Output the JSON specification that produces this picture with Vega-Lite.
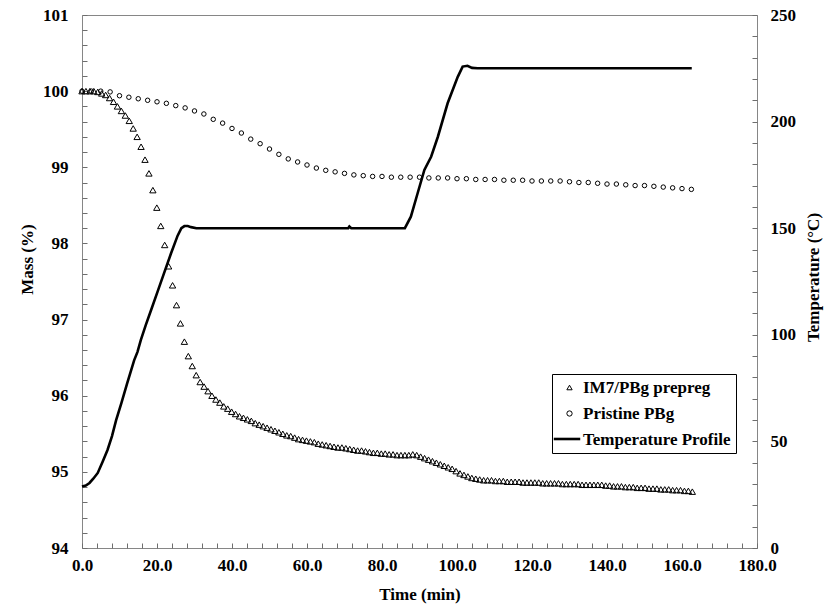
{
  "$schema": "https://vega.github.io/schema/vega-lite/v6.json",
  "width": 675,
  "height": 533,
  "padding": {"left": 18, "top": 6, "right": 5, "bottom": 5},
  "background": "white",
  "config": {
    "font": "Liberation Serif",
    "view": {"stroke": "#868686", "strokeWidth": 1},
    "axis": {
      "grid": false,
      "domain": false,
      "ticks": true,
      "tickSize": 5,
      "tickWidth": 1,
      "offset": -5,
      "tickColor": "#6e6e6e",
      "labelColor": "black",
      "titleColor": "black",
      "labelFont": "Liberation Serif",
      "titleFont": "Liberation Serif",
      "labelFontWeight": "bold",
      "titleFontWeight": "bold",
      "labelFontSize": 17,
      "titleFontSize": 17,
      "labelOverlap": false,
      "labelFlush": false,
      "labelBound": false
    }
  },
  "datasets": {
    "mass": [
      {"s": "Pristine PBg", "t": 0, "m": 100.00},
      {"s": "Pristine PBg", "t": 2.5, "m": 100.00},
      {"s": "Pristine PBg", "t": 5, "m": 100.00},
      {"s": "Pristine PBg", "t": 7.5, "m": 99.99},
      {"s": "Pristine PBg", "t": 10, "m": 99.94},
      {"s": "Pristine PBg", "t": 12.5, "m": 99.92},
      {"s": "Pristine PBg", "t": 15, "m": 99.90},
      {"s": "Pristine PBg", "t": 17.5, "m": 99.88},
      {"s": "Pristine PBg", "t": 20, "m": 99.86},
      {"s": "Pristine PBg", "t": 22.5, "m": 99.84},
      {"s": "Pristine PBg", "t": 25, "m": 99.81},
      {"s": "Pristine PBg", "t": 27.5, "m": 99.78},
      {"s": "Pristine PBg", "t": 30, "m": 99.74},
      {"s": "Pristine PBg", "t": 32.5, "m": 99.70},
      {"s": "Pristine PBg", "t": 35, "m": 99.63},
      {"s": "Pristine PBg", "t": 37.5, "m": 99.58},
      {"s": "Pristine PBg", "t": 40, "m": 99.51},
      {"s": "Pristine PBg", "t": 42.5, "m": 99.45},
      {"s": "Pristine PBg", "t": 45, "m": 99.37},
      {"s": "Pristine PBg", "t": 47.5, "m": 99.31},
      {"s": "Pristine PBg", "t": 50, "m": 99.24},
      {"s": "Pristine PBg", "t": 52.5, "m": 99.17},
      {"s": "Pristine PBg", "t": 55, "m": 99.11},
      {"s": "Pristine PBg", "t": 57.5, "m": 99.07},
      {"s": "Pristine PBg", "t": 60, "m": 99.03},
      {"s": "Pristine PBg", "t": 62.5, "m": 98.99},
      {"s": "Pristine PBg", "t": 65, "m": 98.96},
      {"s": "Pristine PBg", "t": 67.5, "m": 98.94},
      {"s": "Pristine PBg", "t": 70, "m": 98.92},
      {"s": "Pristine PBg", "t": 72.5, "m": 98.90},
      {"s": "Pristine PBg", "t": 75, "m": 98.89},
      {"s": "Pristine PBg", "t": 77.5, "m": 98.88},
      {"s": "Pristine PBg", "t": 80, "m": 98.88},
      {"s": "Pristine PBg", "t": 82.5, "m": 98.87},
      {"s": "Pristine PBg", "t": 85, "m": 98.87},
      {"s": "Pristine PBg", "t": 87.5, "m": 98.87},
      {"s": "Pristine PBg", "t": 90, "m": 98.87},
      {"s": "Pristine PBg", "t": 92.5, "m": 98.86},
      {"s": "Pristine PBg", "t": 95, "m": 98.86},
      {"s": "Pristine PBg", "t": 97.5, "m": 98.86},
      {"s": "Pristine PBg", "t": 100, "m": 98.85},
      {"s": "Pristine PBg", "t": 102.5, "m": 98.85},
      {"s": "Pristine PBg", "t": 105, "m": 98.84},
      {"s": "Pristine PBg", "t": 107.5, "m": 98.84},
      {"s": "Pristine PBg", "t": 110, "m": 98.84},
      {"s": "Pristine PBg", "t": 112.5, "m": 98.83},
      {"s": "Pristine PBg", "t": 115, "m": 98.83},
      {"s": "Pristine PBg", "t": 117.5, "m": 98.83},
      {"s": "Pristine PBg", "t": 120, "m": 98.82},
      {"s": "Pristine PBg", "t": 122.5, "m": 98.82},
      {"s": "Pristine PBg", "t": 125, "m": 98.82},
      {"s": "Pristine PBg", "t": 127.5, "m": 98.82},
      {"s": "Pristine PBg", "t": 130, "m": 98.81},
      {"s": "Pristine PBg", "t": 132.5, "m": 98.80},
      {"s": "Pristine PBg", "t": 135, "m": 98.80},
      {"s": "Pristine PBg", "t": 137.5, "m": 98.79},
      {"s": "Pristine PBg", "t": 140, "m": 98.78},
      {"s": "Pristine PBg", "t": 142.5, "m": 98.78},
      {"s": "Pristine PBg", "t": 145, "m": 98.77},
      {"s": "Pristine PBg", "t": 147.5, "m": 98.76},
      {"s": "Pristine PBg", "t": 150, "m": 98.76},
      {"s": "Pristine PBg", "t": 152.5, "m": 98.75},
      {"s": "Pristine PBg", "t": 155, "m": 98.74},
      {"s": "Pristine PBg", "t": 157.5, "m": 98.73},
      {"s": "Pristine PBg", "t": 160, "m": 98.72},
      {"s": "Pristine PBg", "t": 162.5, "m": 98.71},
      {"s": "IM7/PBg prepreg", "t": 0, "m": 100.00},
      {"s": "IM7/PBg prepreg", "t": 1.05, "m": 100.00},
      {"s": "IM7/PBg prepreg", "t": 2.1, "m": 100.00},
      {"s": "IM7/PBg prepreg", "t": 3.15, "m": 100.00},
      {"s": "IM7/PBg prepreg", "t": 4.2, "m": 99.99},
      {"s": "IM7/PBg prepreg", "t": 5.25, "m": 99.97},
      {"s": "IM7/PBg prepreg", "t": 6.3, "m": 99.95},
      {"s": "IM7/PBg prepreg", "t": 7.35, "m": 99.91},
      {"s": "IM7/PBg prepreg", "t": 8.4, "m": 99.86},
      {"s": "IM7/PBg prepreg", "t": 9.45, "m": 99.80},
      {"s": "IM7/PBg prepreg", "t": 10.5, "m": 99.74},
      {"s": "IM7/PBg prepreg", "t": 11.55, "m": 99.68},
      {"s": "IM7/PBg prepreg", "t": 12.6, "m": 99.61},
      {"s": "IM7/PBg prepreg", "t": 13.65, "m": 99.51},
      {"s": "IM7/PBg prepreg", "t": 14.7, "m": 99.40},
      {"s": "IM7/PBg prepreg", "t": 15.75, "m": 99.27},
      {"s": "IM7/PBg prepreg", "t": 16.8, "m": 99.10},
      {"s": "IM7/PBg prepreg", "t": 17.85, "m": 98.92},
      {"s": "IM7/PBg prepreg", "t": 18.9, "m": 98.70},
      {"s": "IM7/PBg prepreg", "t": 19.95, "m": 98.47},
      {"s": "IM7/PBg prepreg", "t": 21, "m": 98.23},
      {"s": "IM7/PBg prepreg", "t": 22.05, "m": 97.98},
      {"s": "IM7/PBg prepreg", "t": 23.1, "m": 97.70},
      {"s": "IM7/PBg prepreg", "t": 24.15, "m": 97.45},
      {"s": "IM7/PBg prepreg", "t": 25.2, "m": 97.19},
      {"s": "IM7/PBg prepreg", "t": 26.25, "m": 96.95},
      {"s": "IM7/PBg prepreg", "t": 27.3, "m": 96.71},
      {"s": "IM7/PBg prepreg", "t": 28.35, "m": 96.52},
      {"s": "IM7/PBg prepreg", "t": 29.4, "m": 96.39},
      {"s": "IM7/PBg prepreg", "t": 30.45, "m": 96.27},
      {"s": "IM7/PBg prepreg", "t": 31.5, "m": 96.18},
      {"s": "IM7/PBg prepreg", "t": 32.55, "m": 96.12},
      {"s": "IM7/PBg prepreg", "t": 33.6, "m": 96.06},
      {"s": "IM7/PBg prepreg", "t": 34.65, "m": 96.00},
      {"s": "IM7/PBg prepreg", "t": 35.7, "m": 95.95},
      {"s": "IM7/PBg prepreg", "t": 36.75, "m": 95.91},
      {"s": "IM7/PBg prepreg", "t": 37.8, "m": 95.86},
      {"s": "IM7/PBg prepreg", "t": 38.85, "m": 95.83},
      {"s": "IM7/PBg prepreg", "t": 39.9, "m": 95.79},
      {"s": "IM7/PBg prepreg", "t": 40.95, "m": 95.76},
      {"s": "IM7/PBg prepreg", "t": 42, "m": 95.73},
      {"s": "IM7/PBg prepreg", "t": 43.05, "m": 95.71},
      {"s": "IM7/PBg prepreg", "t": 44.1, "m": 95.69},
      {"s": "IM7/PBg prepreg", "t": 45.15, "m": 95.67},
      {"s": "IM7/PBg prepreg", "t": 46.2, "m": 95.64},
      {"s": "IM7/PBg prepreg", "t": 47.25, "m": 95.62},
      {"s": "IM7/PBg prepreg", "t": 48.3, "m": 95.60},
      {"s": "IM7/PBg prepreg", "t": 49.35, "m": 95.58},
      {"s": "IM7/PBg prepreg", "t": 50.4, "m": 95.56},
      {"s": "IM7/PBg prepreg", "t": 51.45, "m": 95.54},
      {"s": "IM7/PBg prepreg", "t": 52.5, "m": 95.52},
      {"s": "IM7/PBg prepreg", "t": 53.55, "m": 95.50},
      {"s": "IM7/PBg prepreg", "t": 54.6, "m": 95.48},
      {"s": "IM7/PBg prepreg", "t": 55.65, "m": 95.47},
      {"s": "IM7/PBg prepreg", "t": 56.7, "m": 95.45},
      {"s": "IM7/PBg prepreg", "t": 57.75, "m": 95.43},
      {"s": "IM7/PBg prepreg", "t": 58.8, "m": 95.42},
      {"s": "IM7/PBg prepreg", "t": 59.85, "m": 95.41},
      {"s": "IM7/PBg prepreg", "t": 60.9, "m": 95.40},
      {"s": "IM7/PBg prepreg", "t": 61.95, "m": 95.39},
      {"s": "IM7/PBg prepreg", "t": 63, "m": 95.37},
      {"s": "IM7/PBg prepreg", "t": 64.05, "m": 95.36},
      {"s": "IM7/PBg prepreg", "t": 65.1, "m": 95.35},
      {"s": "IM7/PBg prepreg", "t": 66.15, "m": 95.34},
      {"s": "IM7/PBg prepreg", "t": 67.2, "m": 95.33},
      {"s": "IM7/PBg prepreg", "t": 68.25, "m": 95.32},
      {"s": "IM7/PBg prepreg", "t": 69.3, "m": 95.32},
      {"s": "IM7/PBg prepreg", "t": 70.35, "m": 95.31},
      {"s": "IM7/PBg prepreg", "t": 71.4, "m": 95.30},
      {"s": "IM7/PBg prepreg", "t": 72.45, "m": 95.29},
      {"s": "IM7/PBg prepreg", "t": 73.5, "m": 95.28},
      {"s": "IM7/PBg prepreg", "t": 74.55, "m": 95.28},
      {"s": "IM7/PBg prepreg", "t": 75.6, "m": 95.27},
      {"s": "IM7/PBg prepreg", "t": 76.65, "m": 95.26},
      {"s": "IM7/PBg prepreg", "t": 77.7, "m": 95.25},
      {"s": "IM7/PBg prepreg", "t": 78.75, "m": 95.25},
      {"s": "IM7/PBg prepreg", "t": 79.8, "m": 95.24},
      {"s": "IM7/PBg prepreg", "t": 80.85, "m": 95.24},
      {"s": "IM7/PBg prepreg", "t": 81.9, "m": 95.23},
      {"s": "IM7/PBg prepreg", "t": 82.95, "m": 95.23},
      {"s": "IM7/PBg prepreg", "t": 84, "m": 95.22},
      {"s": "IM7/PBg prepreg", "t": 85.05, "m": 95.22},
      {"s": "IM7/PBg prepreg", "t": 86.1, "m": 95.22},
      {"s": "IM7/PBg prepreg", "t": 87.15, "m": 95.22},
      {"s": "IM7/PBg prepreg", "t": 88.2, "m": 95.23},
      {"s": "IM7/PBg prepreg", "t": 89.25, "m": 95.22},
      {"s": "IM7/PBg prepreg", "t": 90.3, "m": 95.20},
      {"s": "IM7/PBg prepreg", "t": 91.35, "m": 95.18},
      {"s": "IM7/PBg prepreg", "t": 92.4, "m": 95.16},
      {"s": "IM7/PBg prepreg", "t": 93.45, "m": 95.14},
      {"s": "IM7/PBg prepreg", "t": 94.5, "m": 95.12},
      {"s": "IM7/PBg prepreg", "t": 95.55, "m": 95.10},
      {"s": "IM7/PBg prepreg", "t": 96.6, "m": 95.08},
      {"s": "IM7/PBg prepreg", "t": 97.65, "m": 95.06},
      {"s": "IM7/PBg prepreg", "t": 98.7, "m": 95.04},
      {"s": "IM7/PBg prepreg", "t": 99.75, "m": 95.01},
      {"s": "IM7/PBg prepreg", "t": 100.8, "m": 94.98},
      {"s": "IM7/PBg prepreg", "t": 101.85, "m": 94.96},
      {"s": "IM7/PBg prepreg", "t": 102.9, "m": 94.94},
      {"s": "IM7/PBg prepreg", "t": 103.95, "m": 94.92},
      {"s": "IM7/PBg prepreg", "t": 105, "m": 94.91},
      {"s": "IM7/PBg prepreg", "t": 106.05, "m": 94.90},
      {"s": "IM7/PBg prepreg", "t": 107.1, "m": 94.89},
      {"s": "IM7/PBg prepreg", "t": 108.15, "m": 94.89},
      {"s": "IM7/PBg prepreg", "t": 109.2, "m": 94.89},
      {"s": "IM7/PBg prepreg", "t": 110.25, "m": 94.88},
      {"s": "IM7/PBg prepreg", "t": 111.3, "m": 94.88},
      {"s": "IM7/PBg prepreg", "t": 112.35, "m": 94.88},
      {"s": "IM7/PBg prepreg", "t": 113.4, "m": 94.87},
      {"s": "IM7/PBg prepreg", "t": 114.45, "m": 94.87},
      {"s": "IM7/PBg prepreg", "t": 115.5, "m": 94.87},
      {"s": "IM7/PBg prepreg", "t": 116.55, "m": 94.87},
      {"s": "IM7/PBg prepreg", "t": 117.6, "m": 94.86},
      {"s": "IM7/PBg prepreg", "t": 118.65, "m": 94.86},
      {"s": "IM7/PBg prepreg", "t": 119.7, "m": 94.86},
      {"s": "IM7/PBg prepreg", "t": 120.75, "m": 94.86},
      {"s": "IM7/PBg prepreg", "t": 121.8, "m": 94.86},
      {"s": "IM7/PBg prepreg", "t": 122.85, "m": 94.85},
      {"s": "IM7/PBg prepreg", "t": 123.9, "m": 94.85},
      {"s": "IM7/PBg prepreg", "t": 124.95, "m": 94.85},
      {"s": "IM7/PBg prepreg", "t": 126, "m": 94.85},
      {"s": "IM7/PBg prepreg", "t": 127.05, "m": 94.85},
      {"s": "IM7/PBg prepreg", "t": 128.1, "m": 94.84},
      {"s": "IM7/PBg prepreg", "t": 129.15, "m": 94.84},
      {"s": "IM7/PBg prepreg", "t": 130.2, "m": 94.84},
      {"s": "IM7/PBg prepreg", "t": 131.25, "m": 94.84},
      {"s": "IM7/PBg prepreg", "t": 132.3, "m": 94.84},
      {"s": "IM7/PBg prepreg", "t": 133.35, "m": 94.83},
      {"s": "IM7/PBg prepreg", "t": 134.4, "m": 94.83},
      {"s": "IM7/PBg prepreg", "t": 135.45, "m": 94.83},
      {"s": "IM7/PBg prepreg", "t": 136.5, "m": 94.83},
      {"s": "IM7/PBg prepreg", "t": 137.55, "m": 94.83},
      {"s": "IM7/PBg prepreg", "t": 138.6, "m": 94.83},
      {"s": "IM7/PBg prepreg", "t": 139.65, "m": 94.82},
      {"s": "IM7/PBg prepreg", "t": 140.7, "m": 94.82},
      {"s": "IM7/PBg prepreg", "t": 141.75, "m": 94.81},
      {"s": "IM7/PBg prepreg", "t": 142.8, "m": 94.81},
      {"s": "IM7/PBg prepreg", "t": 143.85, "m": 94.81},
      {"s": "IM7/PBg prepreg", "t": 144.9, "m": 94.80},
      {"s": "IM7/PBg prepreg", "t": 145.95, "m": 94.80},
      {"s": "IM7/PBg prepreg", "t": 147, "m": 94.80},
      {"s": "IM7/PBg prepreg", "t": 148.05, "m": 94.79},
      {"s": "IM7/PBg prepreg", "t": 149.1, "m": 94.79},
      {"s": "IM7/PBg prepreg", "t": 150.15, "m": 94.79},
      {"s": "IM7/PBg prepreg", "t": 151.2, "m": 94.78},
      {"s": "IM7/PBg prepreg", "t": 152.25, "m": 94.78},
      {"s": "IM7/PBg prepreg", "t": 153.3, "m": 94.78},
      {"s": "IM7/PBg prepreg", "t": 154.35, "m": 94.77},
      {"s": "IM7/PBg prepreg", "t": 155.4, "m": 94.77},
      {"s": "IM7/PBg prepreg", "t": 156.45, "m": 94.77},
      {"s": "IM7/PBg prepreg", "t": 157.5, "m": 94.76},
      {"s": "IM7/PBg prepreg", "t": 158.55, "m": 94.76},
      {"s": "IM7/PBg prepreg", "t": 159.6, "m": 94.76},
      {"s": "IM7/PBg prepreg", "t": 160.65, "m": 94.75},
      {"s": "IM7/PBg prepreg", "t": 161.7, "m": 94.75},
      {"s": "IM7/PBg prepreg", "t": 162.75, "m": 94.74}
    ],
    "temp": [
      {"t": 0, "T": 28.8},
      {"t": 1, "T": 29.3},
      {"t": 2, "T": 30.5},
      {"t": 3, "T": 32.5},
      {"t": 4.2, "T": 35.2},
      {"t": 5.5, "T": 40.5},
      {"t": 6.8, "T": 46},
      {"t": 8, "T": 52.5},
      {"t": 9.1, "T": 60},
      {"t": 10.5, "T": 68},
      {"t": 12, "T": 77},
      {"t": 13.9, "T": 88},
      {"t": 14.8, "T": 92},
      {"t": 15.7, "T": 97.6},
      {"t": 17, "T": 104.5},
      {"t": 18.5, "T": 112},
      {"t": 20.2, "T": 120.5},
      {"t": 22, "T": 129.5},
      {"t": 23.7, "T": 138},
      {"t": 25.5, "T": 146.5},
      {"t": 26.5, "T": 150},
      {"t": 27.3, "T": 151},
      {"t": 28.2, "T": 151},
      {"t": 29.1, "T": 150.5},
      {"t": 30.5, "T": 150},
      {"t": 71, "T": 150},
      {"t": 71.3, "T": 150.8},
      {"t": 71.8, "T": 150},
      {"t": 86.1, "T": 150},
      {"t": 87.7, "T": 155.4},
      {"t": 89.5, "T": 166.4},
      {"t": 91.3, "T": 177.3},
      {"t": 93.1, "T": 183.5},
      {"t": 94.9, "T": 192.9},
      {"t": 97.5, "T": 208.6},
      {"t": 100.2, "T": 221},
      {"t": 101.5, "T": 225.8},
      {"t": 102.8, "T": 226.2},
      {"t": 104, "T": 225.2},
      {"t": 105.5, "T": 225},
      {"t": 162.6, "T": 225}
    ]
  },
  "encoding": {
    "x": {
      "field": "t", "type": "quantitative",
      "scale": {"domain": [0, 180], "nice": false, "zero": false},
      "axis": {
        "title": "Time (min)",
        "values": [0,4,8,12,16,20,24,28,32,36,40,44,48,52,56,60,64,68,72,76,80,84,88,92,96,100,104,108,112,116,120,124,128,132,136,140,144,148,152,156,160,164,168,172,176,180],
        "labelExpr": "datum.value % 20 === 0 ? format(datum.value, '.1f') : ''",
        "labelOverlap": false,
        "labelPadding": 9,
        "titlePadding": 13
      }
    }
  },
  "layer": [
    {
      "data": {"name": "mass"},
      "mark": {"type": "point", "filled": false, "color": "black", "opacity": 1, "strokeWidth": 1},
      "encoding": {
        "y": {
          "field": "m", "type": "quantitative",
          "scale": {"domain": [94, 101], "nice": false, "zero": false},
          "axis": {
            "title": "Mass (%)",
            "orient": "left",
            "titleY": 244,
            "values": [94,94.2,94.4,94.6,94.8,95,95.2,95.4,95.6,95.8,96,96.2,96.4,96.6,96.8,97,97.2,97.4,97.6,97.8,98,98.2,98.4,98.6,98.8,99,99.2,99.4,99.6,99.8,100,100.2,100.4,100.6,100.8,101],
            "labelExpr": "abs(datum.value - round(datum.value)) < 0.01 ? format(datum.value, 'd') : ''",
            "labelOverlap": false,
            "labelPadding": 14,
            "titlePadding": 6
          }
        },
        "shape": {
          "field": "s", "type": "nominal",
          "scale": {
            "domain": ["IM7/PBg prepreg", "Pristine PBg", "Temperature Profile"],
            "range": ["triangle-up", "circle", "stroke"]
          },
          "legend": {
            "orient": "none",
            "legendX": 470,
            "legendY": 359,
            "title": null,
            "strokeColor": "black",
            "padding": 5,
            "symbolSize": 28,
            "symbolOffset": 4,
            "symbolStrokeColor": "black",
            "symbolStrokeWidth": 1,
            "labelOffset": 5,
            "rowPadding": 8,
            "labelFont": "Liberation Serif",
            "labelFontWeight": "bold",
            "labelFontSize": 17,
            "labelColor": "black",
            "labelLimit": 300
          }
        },
        "size": {
          "condition": {"test": "datum.s === 'Pristine PBg'", "value": 20},
          "value": 40
        }
      }
    },
    {
      "data": {"name": "temp"},
      "mark": {"type": "line", "strokeWidth": 2.6},
      "encoding": {
        "y": {
          "field": "T", "type": "quantitative",
          "scale": {"domain": [0, 250], "nice": false, "zero": false},
          "axis": {
            "title": "Temperature (°C)",
            "orient": "right",
            "titleAngle": 270,
            "titleBaseline": "top",
            "titleY": 262,
            "values": [0,10,20,30,40,50,60,70,80,90,100,110,120,130,140,150,160,170,180,190,200,210,220,230,240,250],
            "labelExpr": "datum.value % 50 === 0 ? format(datum.value, 'd') : ''",
            "labelOverlap": false,
            "labelPadding": 13,
            "titlePadding": 10
          }
        },
        "color": {
          "datum": "Temperature Profile",
          "scale": {"range": ["black"]},
          "legend": {
            "orient": "none",
            "legendX": 470,
            "legendY": 409,
            "title": null,
            "padding": 0,
            "symbolType": "stroke",
            "symbolSize": 700,
            "symbolStrokeWidth": 2.6,
            "symbolStrokeColor": "black",
            "labelExpr": "''",
            "labelFontSize": 17
          }
        }
      }
    }
  ],
  "resolve": {"scale": {"y": "independent"}}
}
